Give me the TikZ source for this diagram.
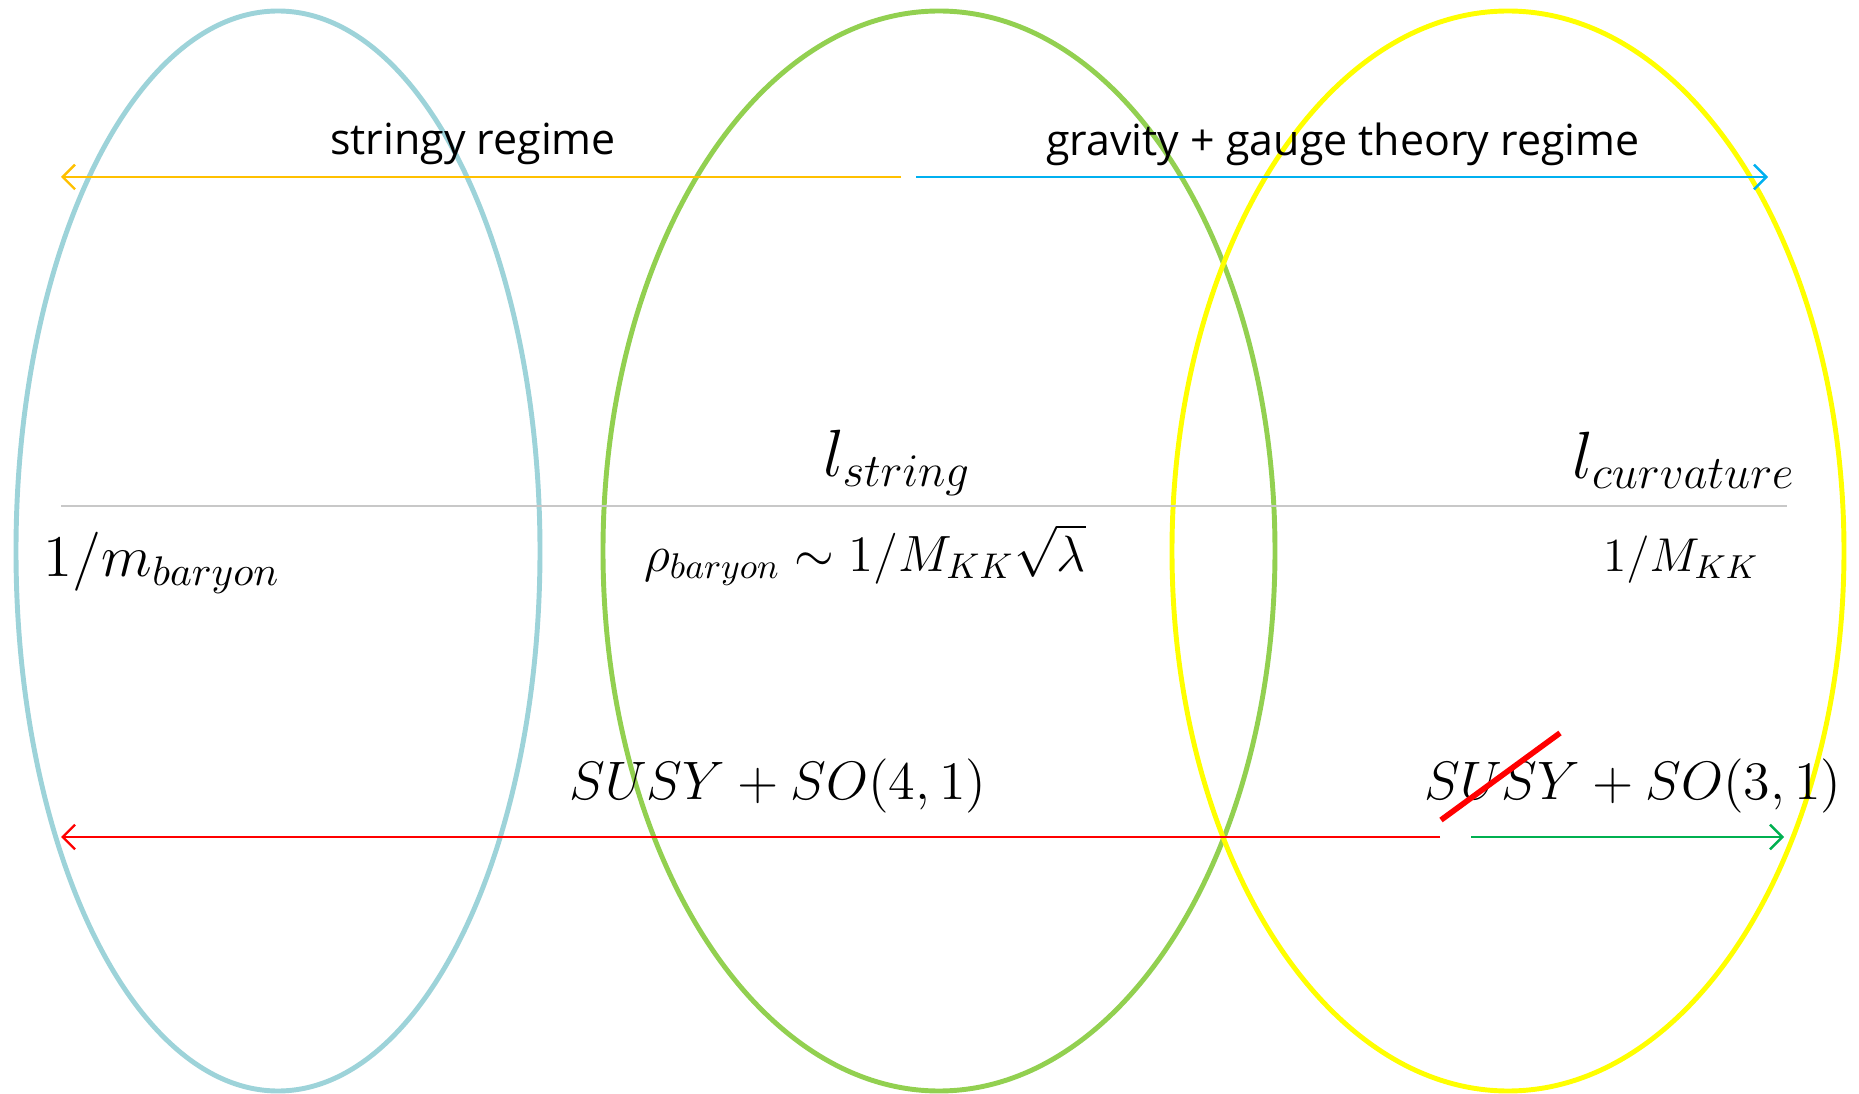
\RequirePackage{fix-cm}
\documentclass[tikz,border=0pt]{standalone}
\usepackage{fontspec}
\setsansfont{Open Sans}
\usetikzlibrary{arrows.meta}
\definecolor{ovalblue}{HTML}{9DD3D9}
\definecolor{ovalgreen}{HTML}{92D050}
\definecolor{ovalyellow}{HTML}{FFFF00}
\definecolor{arrorange}{HTML}{FFC000}
\definecolor{arrblue}{HTML}{00B0F0}
\definecolor{arrred}{HTML}{FF0000}
\definecolor{arrgreen}{HTML}{00B050}
\definecolor{scalegray}{HTML}{C8C8C8}

\begin{document}
\begin{tikzpicture}[x=0.01cm, y=-0.01cm,
  oval/.style={line width=1.4pt},
  regime/.style={font=\sffamily\fontsize{12.2}{15}\selectfont, inner sep=0pt},
  lengthlab/.style={inner sep=0pt, font=\fontsize{19}{23}\selectfont},
  masslab/.style={inner sep=0pt, font=\fontsize{16.8}{19}\selectfont},
  symlab/.style={inner sep=0pt, font=\fontsize{15.4}{19}\selectfont},
  arrow/.style={-{Straight Barb[length=3.5pt,width=7pt]}, line width=0.7pt}
]
\useasboundingbox (0,0) rectangle (1859,1094);
% the three regions
\draw[oval, ovalblue] (278,551) ellipse [x radius=262, y radius=540];
\draw[oval, ovalgreen] (939,551) ellipse [x radius=336, y radius=540];
\draw[oval, ovalyellow] (1508,551) ellipse [x radius=336, y radius=540];

% regimes
\node[regime] (stringy) at (473,144) {stringy regime};
\node[regime] (gravity) at (1343,144) {gravity + gauge theory regime};
\coordinate (stringy end) at (61,177);
\coordinate (stringy start) at (901,177);
\coordinate (gravity start) at (916,177);
\coordinate (gravity end) at (1768,177);
\draw[arrow, arrorange] (stringy start) -- (stringy end);
\draw[arrow, arrblue] (gravity start) -- (gravity end);

% length scales
\coordinate (scale left) at (61,506);
\coordinate (scale right) at (1787,506);
\draw[scalegray, line width=0.6pt] (scale left) -- (scale right);
\node[lengthlab] (lstring) at (897,463) {$l_{string}$};
\node[lengthlab] (lcurv) at (1684,460) {$l_{curvature}$};
\node[masslab] (mbaryon) at (162,563) {$1/m_{baryon}$};
\node[masslab, font=\fontsize{14.5}{17}\selectfont] (rhobaryon) at (865,555) {$\rho_{baryon}\sim 1/M_{KK}\sqrt{\lambda}$};
\node[masslab, font=\fontsize{13.5}{16}\selectfont] (mkk) at (1681,560) {$1/M_{KK}$};

% symmetries
\node[symlab] (so41) at (778,786) {$SUSY+SO(4,1)$};
\node[symlab] (so31) at (1633,786) {$SUSY+SO(3,1)$};
\coordinate (susy end) at (61,837);
\coordinate (susy start) at (1440,837);
\coordinate (lorentz start) at (1471,837);
\coordinate (lorentz end) at (1784,837);
\draw[arrow, arrred] (susy start) -- (susy end);
\draw[arrow, arrgreen] (lorentz start) -- (lorentz end);
\coordinate (cross a) at (1441,820);
\coordinate (cross b) at (1560,733);
\draw[arrred, line width=1.6pt] (cross a) -- (cross b);
\end{tikzpicture}
\end{document}
